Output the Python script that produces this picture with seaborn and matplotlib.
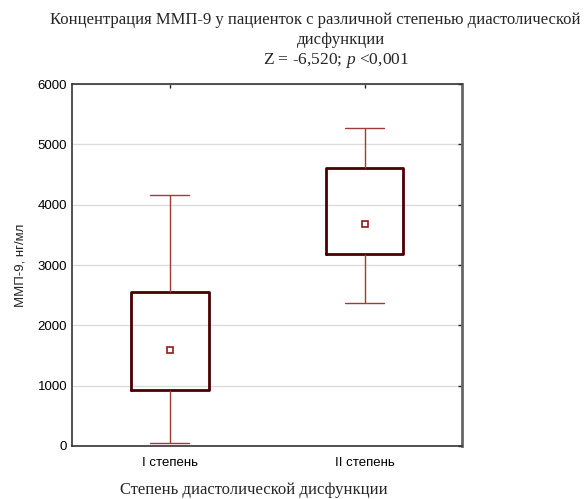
import numpy as np
import pandas as pd
import matplotlib
matplotlib.use("Agg")
import matplotlib.pyplot as plt
import seaborn as sns

# Five-number summaries per group: min, Q1, median, Q3, max (ng/ml)
groups = ["I степень", "II степень"]
mmp9_group1 = [55, 934, 1587, 2554, 4167]
mmp9_group2 = [2376, 3189, 3687, 4610, 5279]
y_ticks = [0, 1000, 2000, 3000, 4000, 5000, 6000]

title_line1 = "Концентрация ММП-9 у пациенток с различной степенью диастолической"
title_line2 = "дисфункции"
title_line3 = r"Z = -6,520; $\mathit{p}$ <0,001"
x_label = "Степень диастолической дисфункции"
y_label = "ММП-9, нг/мл"

df = pd.DataFrame({
    "group": [groups[0]] * len(mmp9_group1) + [groups[1]] * len(mmp9_group2),
    "value": mmp9_group1 + mmp9_group2,
})

sns.set_style("white")
plt.rcParams["font.family"] = ["Liberation Sans", "DejaVu Sans"]
plt.rcParams["mathtext.fontset"] = "custom"
plt.rcParams["mathtext.rm"] = "Liberation Serif"
plt.rcParams["mathtext.it"] = "Liberation Serif:italic"

box_edge = "#4a0000"
whisker_col = "#a33a3a"
median_col = "#8e1c1c"

fig = plt.figure(figsize=(5.87, 4.99), dpi=100)
ax = fig.add_axes([72 / 587, 1 - 446 / 499, 390 / 587, 362 / 499])

sns.boxplot(
    data=df, x="group", y="value", order=groups, ax=ax,
    whis=(0, 100), width=0.4, fill=False, showfliers=False,
    boxprops={"color": box_edge, "linewidth": 2.0},
    whiskerprops={"color": whisker_col, "linewidth": 1.0},
    capprops={"color": whisker_col, "linewidth": 1.0},
    medianprops={"visible": False},
)
sns.pointplot(
    data=df, x="group", y="value", order=groups, ax=ax,
    estimator="median", errorbar=None, linestyle="none",
    marker="s", markersize=5, markerfacecolor="white",
    markeredgecolor=median_col, markeredgewidth=1.2, color=median_col,
)

ax.set_xlim(-0.5, 1.5)
ax.set_ylim(0, 6000)
ax.set_yticks(y_ticks)
ax.yaxis.grid(True, color="#dcdcdc", linewidth=1.0)
ax.set_axisbelow(True)
ax.tick_params(direction="in", top=True, right=True, length=3, width=1,
               labelsize=9.5, colors="#222222", labelcolor="black")
ax.tick_params(axis="x", pad=8)
for side in ["left", "right", "top", "bottom"]:
    ax.spines[side].set_visible(True)
    ax.spines[side].set_color("#333333")
    ax.spines[side].set_linewidth(1.2)
ax.spines["right"].set_color("#666666")
ax.spines["right"].set_linewidth(2.0)

ax.set_xlabel("")
ax.set_ylabel(y_label, fontsize=9.5, labelpad=8)
fig.text(254 / 587, 1 - 490 / 499, x_label, ha="center", va="center",
         fontsize=12, family="Liberation Serif")

fig.text(315 / 587, 1 - 20 / 499, title_line1, ha="center", va="center",
         fontsize=12, family="Liberation Serif")
fig.text(341 / 587, 1 - 40 / 499, title_line2, ha="center", va="center",
         fontsize=12, family="Liberation Serif")
fig.text(336 / 587, 1 - 61 / 499, title_line3, ha="center", va="center",
         fontsize=12.5, family="Liberation Serif")

fig.savefig("out.png", dpi=100)
